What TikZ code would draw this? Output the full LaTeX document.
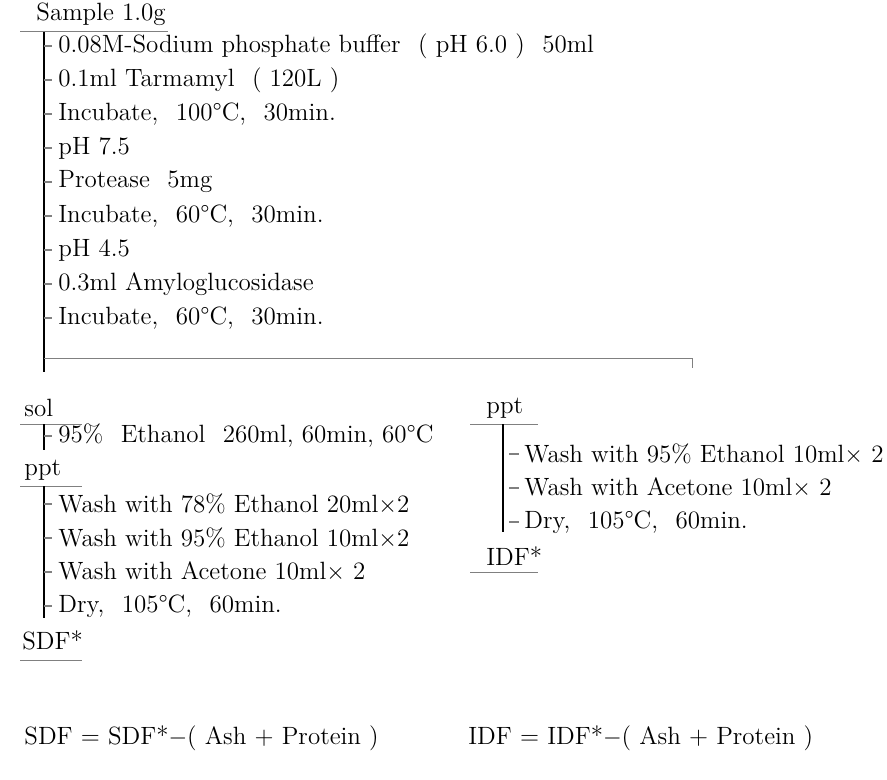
\documentclass[tikz,border=0pt]{standalone}
\usetikzlibrary{positioning}

\tikzset{
  txt/.style={font=\fontsize{12.5}{15}\selectfont, inner sep=0pt, anchor=west},
  trunk/.style={line width=0.9pt},
  rule/.style={gray, line width=0.5pt},
  tick/.style={gray, line width=0.6pt}
}
\newcommand{\gap}{\hspace{0.7em}}

\begin{document}
\begin{tikzpicture}[x=0.5pt,y=-0.5pt]
  \useasboundingbox (0,0) rectangle (887,780);

  % digestion of the sample
  \node[txt] (sample) at (36,14) {Sample 1.0g};
  \coordinate (sampleL) at (20,32); \coordinate (sampleR) at (168,32);
  \draw[rule] (sampleL) -- (sampleR);

  \node[txt] (buffer)  at (58,46)  {0.08M-Sodium phosphate buffer\gap( pH 6.0 )\gap 50ml};
  \node[txt] (termamyl) at (58,80) {0.1ml Tarmamyl\gap( 120L )};
  \node[txt] (incA)    at (58,114) {Incubate,\gap 100\textdegree C,\gap 30min.};
  \node[txt] (phA)     at (58,148) {pH 7.5};
  \node[txt] (protease) at (58,182) {Protease\gap 5mg};
  \node[txt] (incB)    at (58,216) {Incubate,\gap 60\textdegree C,\gap 30min.};
  \node[txt] (phB)     at (58,250) {pH 4.5};
  \node[txt] (amylo)   at (58,284) {0.3ml Amyloglucosidase};
  \node[txt] (incC)    at (58,318) {Incubate,\gap 60\textdegree C,\gap 30min.};

  \coordinate (mainT) at (44,32); \coordinate (mainB) at (44,372);
  \draw[trunk] (mainT) -- (mainB);
  \foreach \n in {buffer,termamyl,incA,phA,protease,incB,phB,amylo,incC}
    \draw[tick] (mainT |- \n.west) -- ([xshift=-3]\n.west);

  % split into solution and precipitate
  \coordinate (splitL) at (44,358); \coordinate (splitR) at (692,358);
  \coordinate (splitD) at (692,368);
  \draw[rule] (splitL) -- (splitR) -- (splitD);

  % soluble part
  \node[txt] (sol) at (24,408) {sol};
  \coordinate (solL) at (20,424); \coordinate (solR) at (82,424);
  \draw[rule] (solL) -- (solR);
  \node[txt] (ethanol) at (58,436) {95\%\gap Ethanol\gap 260ml, 60min, 60\textdegree C};
  \coordinate (solT) at (44,424); \coordinate (solB) at (44,450);
  \draw[trunk] (solT) -- (solB);
  \draw[tick] (solT |- ethanol.west) -- ([xshift=-3]ethanol.west);

  \node[txt] (pptS) at (24,470) {ppt};
  \coordinate (pptSL) at (20,486); \coordinate (pptSR) at (82,486);
  \draw[rule] (pptSL) -- (pptSR);
  \node[txt] (washA) at (58,504) {Wash with 78\% Ethanol 20ml$\times$2};
  \node[txt] (washB) at (58,538) {Wash with 95\% Ethanol 10ml$\times$2};
  \node[txt] (washC) at (58,572) {Wash with Acetone 10ml$\times$ 2};
  \node[txt] (dryS)  at (58,606) {Dry,\gap 105\textdegree C,\gap 60min.};
  \coordinate (sdfT) at (44,486); \coordinate (sdfB) at (44,618);
  \draw[trunk] (sdfT) -- (sdfB);
  \foreach \n in {washA,washB,washC,dryS}
    \draw[tick] (sdfT |- \n.west) -- ([xshift=-3]\n.west);
  \node[txt] (sdf) at (22,640) {SDF*};
  \coordinate (sdfL) at (20,660); \coordinate (sdfR) at (82,660);
  \draw[rule] (sdfL) -- (sdfR);

  % insoluble part
  \node[txt] (pptI) at (486,408) {ppt};
  \coordinate (pptIL) at (470,424); \coordinate (pptIR) at (538,424);
  \draw[rule] (pptIL) -- (pptIR);
  \node[txt] (washD) at (524,454) {Wash with 95\% Ethanol 10ml$\times$ 2};
  \node[txt] (washE) at (524,488) {Wash with Acetone 10ml$\times$ 2};
  \node[txt] (dryI)  at (524,522) {Dry,\gap 105\textdegree C,\gap 60min.};
  \coordinate (idfT) at (503,424); \coordinate (idfB) at (503,532);
  \draw[trunk] (idfT) -- (idfB);
  \foreach \n in {washD,washE,dryI}
    \draw[tick] ([xshift=3]idfT |- \n.west) -- ++(10,0);
  \node[txt] (idf) at (486,556) {IDF*};
  \coordinate (idfL) at (470,572); \coordinate (idfR) at (538,572);
  \draw[rule] (idfL) -- (idfR);

  % definitions
  \node[txt] (sdfEq) at (24,738) {SDF = SDF*$-$( Ash + Protein )};
  \node[txt] (idfEq) at (468,738) {IDF = IDF*$-$( Ash + Protein )};
\end{tikzpicture}
\end{document}
